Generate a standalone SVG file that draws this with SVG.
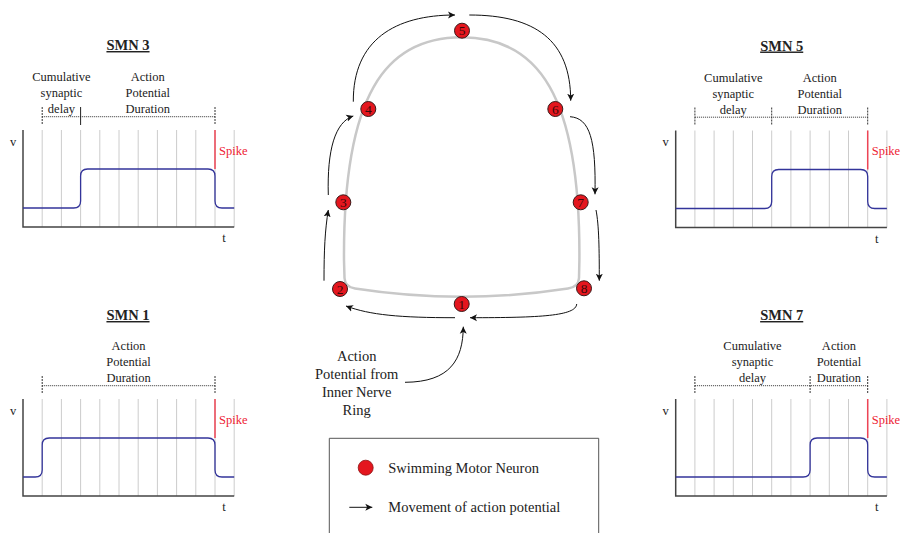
<svg xmlns="http://www.w3.org/2000/svg" width="903" height="533" viewBox="0 0 903 533" font-family="'Liberation Serif', 'Times New Roman', serif">
<style>
text{font-family:"Liberation Serif","Times New Roman",serif;fill:#222}
.lbl{font-size:12.5px;text-anchor:middle}
.ttl{font-size:14.5px;font-weight:bold;text-anchor:middle;text-decoration:underline}
.grid{stroke:#cccccc;stroke-width:1}
.axis{stroke:#444;stroke-width:1.5;fill:none}
.wave{stroke:#33349a;stroke-width:1.3;fill:none}
.spike{stroke:#ee4455;stroke-width:1.5}
.spk{font-size:12.5px;fill:#ee2233}
.dot{stroke:#333;stroke-width:1;stroke-dasharray:1 1}
.tick{stroke:#333;stroke-width:1;stroke-dasharray:2 1}
.ring{fill:none;stroke:#c8c8c8;stroke-width:2.5}
.node circle{fill:#e4161e;stroke:#3a1a1a;stroke-width:1}
.node text{font-size:13.5px;text-anchor:middle;fill:#3a0a0a}
.conn path{fill:none;stroke:#111;stroke-width:1;marker-end:url(#ah)}
.big{font-size:14.5px}
</style>
<defs>
<marker id="ah" markerUnits="userSpaceOnUse" markerWidth="9" markerHeight="8" refX="7" refY="4" orient="auto">
<path d="M0,0.5 L7,4 L0,7.5 L1.8,4 Z" fill="#111"/>
</marker>
<g id="grid">
<line class="grid" x1="19.2" y1="0" x2="19.2" y2="97"/>
<line class="grid" x1="38.4" y1="0" x2="38.4" y2="97"/>
<line class="grid" x1="57.6" y1="0" x2="57.6" y2="97"/>
<line class="grid" x1="76.8" y1="0" x2="76.8" y2="97"/>
<line class="grid" x1="96" y1="0" x2="96" y2="97"/>
<line class="grid" x1="115.2" y1="0" x2="115.2" y2="97"/>
<line class="grid" x1="134.4" y1="0" x2="134.4" y2="97"/>
<line class="grid" x1="153.6" y1="0" x2="153.6" y2="97"/>
<line class="grid" x1="172.8" y1="0" x2="172.8" y2="97"/>
<line class="grid" x1="192" y1="0" x2="192" y2="97"/>
<line class="grid" x1="211.2" y1="0" x2="211.2" y2="97"/>
<path class="axis" d="M0,0 V97 H211.2"/>
<line class="spike" x1="192" y1="0" x2="192" y2="39"/>
<text class="spk" x="196" y="24.5">Spike</text>
<text class="lbl" x="-10" y="15.5">v</text>
<text class="lbl" x="201" y="112">t</text>
</g>
</defs>

<g id="smn3" transform="translate(23,130)">
<text class="ttl" x="105" y="-80">SMN 3</text>
<use href="#grid"/>
<path class="wave" d="M0,78 H50.6 Q57.6,78 57.6,71 V46 Q57.6,39 64.6,39 H185 Q192,39 192,46 V71 Q192,78 199,78 H211.2"/>
<line class="dot" x1="19.2" y1="-13.3" x2="192" y2="-13.3"/>
<line class="tick" x1="19.2" y1="-23" x2="19.2" y2="-5"/>
<line stroke="#222" stroke-width="1" x1="57.6" y1="-23" x2="57.6" y2="-5"/>
<line class="tick" x1="192" y1="-23" x2="192" y2="-5"/>
<text class="lbl" x="38.4" y="-49">Cumulative</text>
<text class="lbl" x="38.4" y="-33">synaptic</text>
<text class="lbl" x="38.4" y="-17">delay</text>
<text class="lbl" x="124.8" y="-49">Action</text>
<text class="lbl" x="124.8" y="-33">Potential</text>
<text class="lbl" x="124.8" y="-17">Duration</text>
</g>

<g id="smn1" transform="translate(23,399)">
<text class="ttl" x="105" y="-79">SMN 1</text>
<use href="#grid"/>
<path class="wave" d="M0,78 H12.2 Q19.2,78 19.2,71 V46 Q19.2,39 26.2,39 H185 Q192,39 192,46 V71 Q192,78 199,78 H211.2"/>
<line class="dot" x1="19.2" y1="-13.3" x2="192" y2="-13.3"/>
<line class="tick" x1="19.2" y1="-23" x2="19.2" y2="-5"/>
<line class="tick" x1="192" y1="-23" x2="192" y2="-5"/>
<text class="lbl" x="105.6" y="-49">Action</text>
<text class="lbl" x="105.6" y="-33">Potential</text>
<text class="lbl" x="105.6" y="-17">Duration</text>
</g>

<g id="smn5" transform="translate(675.7,130.5)">
<text class="ttl" x="106" y="-80">SMN 5</text>
<use href="#grid"/>
<path class="wave" d="M0,78 H89 Q96,78 96,71 V46 Q96,39 103,39 H185 Q192,39 192,46 V71 Q192,78 199,78 H211.2"/>
<line class="dot" x1="19.2" y1="-13.3" x2="192" y2="-13.3"/>
<line class="tick" x1="19.2" y1="-23" x2="19.2" y2="-5"/>
<line class="tick" x1="96" y1="-23" x2="96" y2="-5"/>
<line class="tick" x1="192" y1="-23" x2="192" y2="-5"/>
<text class="lbl" x="57.6" y="-49">Cumulative</text>
<text class="lbl" x="57.6" y="-33">synaptic</text>
<text class="lbl" x="57.6" y="-17">delay</text>
<text class="lbl" x="144" y="-49">Action</text>
<text class="lbl" x="144" y="-33">Potential</text>
<text class="lbl" x="144" y="-17">Duration</text>
</g>

<g id="smn7" transform="translate(675.7,399)">
<text class="ttl" x="106" y="-79">SMN 7</text>
<use href="#grid"/>
<path class="wave" d="M0,78 H127.4 Q134.4,78 134.4,71 V46 Q134.4,39 141.4,39 H185 Q192,39 192,46 V71 Q192,78 199,78 H211.2"/>
<line class="dot" x1="19.2" y1="-13.3" x2="192" y2="-13.3"/>
<line class="tick" x1="19.2" y1="-23" x2="19.2" y2="-5"/>
<line class="tick" x1="134.4" y1="-23" x2="134.4" y2="-5"/>
<line class="tick" x1="192" y1="-23" x2="192" y2="-5"/>
<text class="lbl" x="76.8" y="-49">Cumulative</text>
<text class="lbl" x="76.8" y="-33">synaptic</text>
<text class="lbl" x="76.8" y="-17">delay</text>
<text class="lbl" x="163.2" y="-49">Action</text>
<text class="lbl" x="163.2" y="-33">Potential</text>
<text class="lbl" x="163.2" y="-17">Duration</text>
</g>

<g id="ring">
<path class="ring" d="M344,260 C343,95 385,37.3 461.7,37.3 C538.4,37.3 580.4,95 579.4,260 L579,278 Q578.5,287 568,288.5 Q461.7,305 355,288.5 Q345,287 344.5,278 Z"/>
</g>

<g class="conn" id="connectors">
<path d="M353.3,101.7 C353,40 395,15 455,15"/>
<path d="M469.3,15 C535,15 570.7,40 570.7,100.7"/>
<path d="M570,116.7 C590,118 596,140 595,194.3"/>
<path d="M596,210 C599,225 599.3,250 599.3,280.7"/>
<path d="M576.7,304 C576,316 540,317.7 470,317.7"/>
<path d="M455,317.7 C400,317.7 370,315 346,306"/>
<path d="M324,280.7 C324,250 325,230 328.3,210"/>
<path d="M328.3,195 C327,150 335,122 353.3,116"/>
<path d="M405,382.3 C450,382 463,360 463.3,326.7"/>
</g>

<g class="node" id="n1"><circle cx="461.7" cy="304" r="7.5"/><text x="461.7" y="308.7">1</text></g>
<g class="node" id="n2"><circle cx="340" cy="289" r="7.5"/><text x="340" y="293.7">2</text></g>
<g class="node" id="n3"><circle cx="343.3" cy="202.3" r="7.5"/><text x="343.3" y="207">3</text></g>
<g class="node" id="n4"><circle cx="368.3" cy="109" r="7.5"/><text x="368.3" y="113.7">4</text></g>
<g class="node" id="n5"><circle cx="462" cy="30.7" r="7.5"/><text x="462" y="35.4">5</text></g>
<g class="node" id="n6"><circle cx="555.3" cy="109" r="7.5"/><text x="555.3" y="113.7">6</text></g>
<g class="node" id="n7"><circle cx="580.7" cy="202.3" r="7.5"/><text x="580.7" y="207">7</text></g>
<g class="node" id="n8"><circle cx="584" cy="288.3" r="7.5"/><text x="584" y="293">8</text></g>

<g id="input-label">
<text class="big" text-anchor="middle" x="356.7" y="360.5">Action</text>
<text class="big" text-anchor="middle" x="356.7" y="378.5">Potential from</text>
<text class="big" text-anchor="middle" x="356.7" y="396.5">Inner Nerve</text>
<text class="big" text-anchor="middle" x="356.7" y="414.5">Ring</text>
</g>

<g id="legend">
<path d="M329.3,533 V438.3 H598.7 V533" fill="none" stroke="#555" stroke-width="1"/>
<circle cx="365.7" cy="467.7" r="7.5" fill="#e4161e" stroke="#8a1010" stroke-width="0.8"/>
<text class="big" x="388.3" y="472.5">Swimming Motor Neuron</text>
<line x1="349.3" y1="507.3" x2="372.3" y2="507.3" stroke="#111" stroke-width="1" marker-end="url(#ah)"/>
<text class="big" x="388.3" y="512">Movement of action potential</text>
</g>
</svg>
